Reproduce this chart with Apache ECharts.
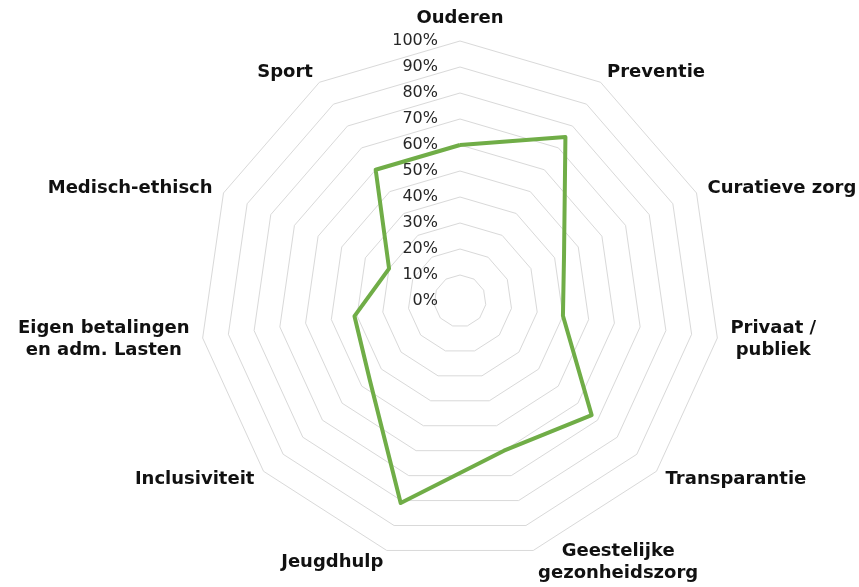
<!DOCTYPE html>
<html>
<head>
<meta charset="utf-8">
<script src="https://cdn.jsdelivr.net/npm/echarts@6/dist/echarts.min.js"></script>
<style>
  html, body { margin: 0; padding: 0; background: #fff; }
  #main { width: 859px; height: 587px; }
</style>
</head>
<body>
<div id="main"></div>
<script>
// clockwise from the top
var categories = ['Ouderen', 'Preventie', 'Curatieve zorg', 'Privaat /\npubliek', 'Transparantie',
  'Geestelijke\ngezonheidszorg', 'Jeugdhulp', 'Inclusiviteit', 'Eigen betalingen\nen adm. Lasten',
  'Medisch-ethisch', 'Sport'];
var scores = [60, 75, 44, 40, 67, 60, 81, 46, 41, 30, 60];
var maxValue = 100;

var nameFont = 'bold 18px "DejaVu Sans"';

var chartDom = document.getElementById('main');
var myChart = echarts.init(chartDom);
var option;

// echarts radar runs counter-clockwise, so flip everything after the first axis
function toRadarOrder(arr) {
  return [arr[0]].concat(arr.slice(1).reverse());
}

var ctx = document.createElement('canvas').getContext('2d');
ctx.font = nameFont;

var rich = {};
var names = toRadarOrder(categories);
var indicators = names.map(function (name, i) {
  var ind = { name: name, min: 0, max: maxValue };
  if (name.indexOf('\n') >= 0) {
    var w = Math.max.apply(null, name.split('\n').map(function (s) { return ctx.measureText(s).width; }));
    rich['r' + i] = {
      width: Math.ceil(w) + 2,
      align: 'center',
      fontFamily: 'DejaVu Sans',
      fontWeight: 'bold',
      fontSize: 18,
      lineHeight: 22,
      color: '#111'
    };
  }
  if (i === 0) {
    ind.axisLabel = {
      show: true,
      formatter: '{value}%',
      margin: 22,
      fontFamily: 'DejaVu Sans',
      fontSize: 16,
      color: '#262626'
    };
  }
  return ind;
});

option = {
  backgroundColor: '#fff',
  animation: false,
  radar: {
    center: [460, 301],
    radius: 260,
    shape: 'polygon',
    splitNumber: 10,
    startAngle: 90,
    nameGap: 12,
    indicator: indicators,
    axisName: {
      color: '#111',
      fontFamily: 'DejaVu Sans',
      fontWeight: 'bold',
      fontSize: 18,
      lineHeight: 22,
      rich: rich,
      formatter: function (name) {
        if (name.indexOf('\n') < 0) return name;
        var key = 'r' + names.indexOf(name);
        return name.split('\n').map(function (s) { return '{' + key + '|' + s + '}'; }).join('\n');
      }
    },
    axisLine: { show: false },
    axisTick: { show: false },
    axisLabel: { show: false },
    splitArea: { show: false },
    splitLine: { lineStyle: { color: '#d9d9d9', width: 1 } }
  },
  series: [
    {
      type: 'radar',
      symbol: 'none',
      lineStyle: { color: '#70ad47', width: 4 },
      data: [{ value: toRadarOrder(scores), name: 'Score' }]
    }
  ]
};

option && myChart.setOption(option);
</script>
</body>
</html>
